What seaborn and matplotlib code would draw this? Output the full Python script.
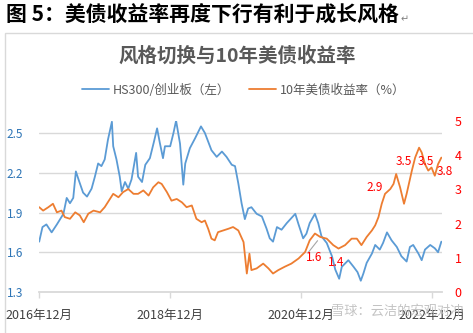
import matplotlib
matplotlib.use("Agg")
import matplotlib.pyplot as plt
import matplotlib.patches as patches
from matplotlib.lines import Line2D
import seaborn as sns
import pandas as pd

# ---------------- data ----------------
t_hs = [2016.92, 2016.97, 2017.03, 2017.11, 2017.19, 2017.29, 2017.34, 2017.39, 2017.44, 2017.48,
        2017.52, 2017.59, 2017.65, 2017.72, 2017.77, 2017.82, 2017.87, 2017.92, 2017.97, 2018.03,
        2018.05, 2018.10, 2018.15, 2018.18, 2018.23, 2018.28, 2018.33, 2018.40, 2018.43, 2018.49,
        2018.54, 2018.61, 2018.67, 2018.72, 2018.76, 2018.81, 2018.84, 2018.92, 2018.97, 2019.01,
        2019.07, 2019.12, 2019.15, 2019.22, 2019.30, 2019.39, 2019.45, 2019.55, 2019.63, 2019.71,
        2019.78, 2019.86, 2019.91, 2019.96, 2020.01, 2020.06, 2020.11, 2020.16, 2020.24, 2020.32,
        2020.39, 2020.44, 2020.49, 2020.55, 2020.62, 2020.70, 2020.83, 2020.88, 2020.95, 2021.00,
        2021.05, 2021.13, 2021.18, 2021.23, 2021.31, 2021.39, 2021.44, 2021.50, 2021.54, 2021.64,
        2021.72, 2021.78, 2021.83, 2021.87, 2021.92, 2022.00, 2022.05, 2022.12, 2022.17, 2022.23,
        2022.30, 2022.38, 2022.45, 2022.53, 2022.58, 2022.63, 2022.71, 2022.76, 2022.81, 2022.89,
        2022.96, 2023.01, 2023.06]
hs_ratio = [1.68, 1.79, 1.81, 1.75, 1.81, 1.89, 2.01, 1.97, 2.01, 2.21,
            2.15, 2.05, 2.02, 2.08, 2.17, 2.27, 2.25, 2.30, 2.45, 2.585,
            2.40, 2.30, 2.17, 2.06, 2.13, 2.08, 2.15, 2.35, 2.17, 2.13,
            2.26, 2.31, 2.43, 2.535, 2.43, 2.31, 2.40, 2.40, 2.50, 2.593,
            2.42, 2.11, 2.27, 2.385, 2.46, 2.55, 2.50, 2.37, 2.32, 2.36,
            2.32, 2.26, 2.25, 2.12, 1.97, 1.85, 1.93, 1.94, 1.89, 1.87,
            1.78, 1.705, 1.68, 1.79, 1.77, 1.82, 1.89, 1.81, 1.705, 1.74,
            1.82, 1.89, 1.82, 1.72, 1.67, 1.57, 1.47, 1.40, 1.49, 1.54,
            1.49, 1.45, 1.385, 1.44, 1.52, 1.59, 1.655, 1.62, 1.67, 1.75,
            1.69, 1.64, 1.57, 1.53, 1.64, 1.655, 1.59, 1.54, 1.62, 1.655,
            1.63, 1.60, 1.68]

t_ust = [2016.92, 2016.98, 2017.06, 2017.13, 2017.19, 2017.26, 2017.31, 2017.39, 2017.47, 2017.54,
         2017.60, 2017.67, 2017.75, 2017.85, 2017.92, 2018.00, 2018.05, 2018.13, 2018.20, 2018.28,
         2018.36, 2018.43, 2018.51, 2018.59, 2018.66, 2018.74, 2018.79, 2018.87, 2018.94, 2019.02,
         2019.10, 2019.17, 2019.25, 2019.32, 2019.40, 2019.45, 2019.50, 2019.55, 2019.60, 2019.65,
         2019.73, 2019.81, 2019.88, 2019.96, 2020.04, 2020.09, 2020.13, 2020.16, 2020.24, 2020.34,
         2020.42, 2020.49, 2020.57, 2020.67, 2020.77, 2020.88, 2020.98, 2021.05, 2021.13, 2021.21,
         2021.31, 2021.41, 2021.49, 2021.59, 2021.69, 2021.77, 2021.84, 2021.92, 2022.00, 2022.05,
         2022.10, 2022.15, 2022.20, 2022.28, 2022.33, 2022.37, 2022.43, 2022.49, 2022.53, 2022.61,
         2022.66, 2022.72, 2022.76, 2022.81, 2022.86, 2022.91, 2022.96, 2023.01, 2023.06]
ust_yield = [2.48, 2.38, 2.48, 2.58, 2.33, 2.38, 2.19, 2.14, 2.33, 2.24,
             2.04, 2.29, 2.38, 2.33, 2.48, 2.72, 2.87, 2.77, 2.92, 3.01,
             2.87, 2.87, 2.97, 2.82, 3.06, 3.21, 3.16, 2.92, 2.67, 2.72,
             2.62, 2.48, 2.53, 2.14, 2.04, 2.09, 1.85, 1.56, 1.51, 1.75,
             1.80, 1.85, 1.90, 1.80, 1.46, 0.54, 1.12, 0.64, 0.69, 0.83,
             0.69, 0.54, 0.64, 0.74, 0.83, 0.98, 1.17, 1.51, 1.71, 1.61,
             1.56, 1.37, 1.27, 1.37, 1.56, 1.56, 1.37, 1.61, 1.80, 1.95,
             2.19, 2.58, 2.87, 3.01, 3.16, 3.45, 3.06, 2.58, 2.87, 3.55,
             3.93, 4.22, 4.08, 3.74, 3.55, 3.64, 3.40, 3.74, 3.93]

label_t = [2021.11, 2021.45, 2022.04, 2022.48, 2022.82, 2023.11]
label_v = [1.01, 0.86, 3.06, 3.83, 3.83, 3.51]
label_txt = ["1.6", "1.4", "2.9", "3.5", "3.5", "3.8"]

x_ticks = [2016.917, 2018.917, 2020.917, 2022.917]
x_ticklabels = ["2016年12月", "2018年12月", "2020年12月", "2022年12月"]
left_ticks = [1.3, 1.6, 1.9, 2.2, 2.5]
right_ticks = [0, 1, 2, 3, 4, 5]

title = "图 5：美债收益率再度下行有利于成长风格"
chart_title = "风格切换与10年美债收益率"
name_hs = "HS300/创业板（左）"
name_ust = "10年美债收益率（%）"
watermark = "雪球：云洁的宏观对冲"

# ---------------- style ----------------
sns.set_theme(style="white")
plt.rcParams["font.family"] = ["Noto Sans CJK SC", "DejaVu Sans"]

BLUE = "#5B9BD5"
ORANGE = "#ED7D31"
GRID = "#D9D9D9"

W, H = 473, 333
fig = plt.figure(figsize=(W / 100, H / 100), dpi=100)
fig.patch.set_facecolor("white")

def fx(px):
    return px / W

def fy(py):
    return 1 - py / H

ax = fig.add_axes([fx(39), fy(292), fx(442) - fx(39), fy(121) - fy(292)])
ax2 = ax.twinx()

df_hs = pd.DataFrame({"t": t_hs, "v": hs_ratio})
df_ust = pd.DataFrame({"t": t_ust, "v": ust_yield})

sns.lineplot(data=df_hs, x="t", y="v", ax=ax, color=BLUE, linewidth=1.3, legend=False)
sns.lineplot(data=df_ust, x="t", y="v", ax=ax2, color=ORANGE, linewidth=1.3, legend=False)
ax2.set_zorder(ax.get_zorder() + 1)
ax2.patch.set_visible(False)

ax.set_xlim(2016.917, 2023.07)
ax.set_ylim(1.3, 1.3 + 171 / 132.5)
ax2.set_ylim(0, 5)

for a in (ax, ax2):
    a.set_xlabel("")
    a.set_ylabel("")
    for s in a.spines.values():
        s.set_visible(False)

ax.spines["bottom"].set_visible(True)
ax.spines["bottom"].set_color(GRID)
ax.spines["bottom"].set_linewidth(1.3)

ax.set_yticks(left_ticks)
ax.set_yticklabels([f"{v:.1f}" for v in left_ticks])
for v in left_ticks[1:]:
    ax.axhline(v, color=GRID, linewidth=1.0, zorder=0)
ax.tick_params(axis="y", length=0, pad=11.5, labelsize=8.5, labelcolor="#2E75B6")

ax2.set_yticks(right_ticks)
ax2.set_yticklabels([str(v) for v in right_ticks])
ax2.tick_params(axis="y", length=0, pad=9, labelsize=9, labelcolor="#FF0000")

ax.set_xticks(x_ticks)
ax.set_xticklabels(x_ticklabels)
ax.tick_params(axis="x", direction="out", length=4, width=1, color=GRID,
               pad=8.5, labelsize=9, labelcolor="#404040", bottom=True)

# data labels
for t, v, s in zip(label_t, label_v, label_txt):
    ax2.text(t, v, s, color="#FF0000", fontsize=8.5, ha="center", va="center", clip_on=False)
ax2.plot([2021.03, 2021.17], [1.16, 1.50], color="#A6A6A6", linewidth=0.8)

# titles
fig.text(fx(6), fy(15), title, fontsize=15, fontweight="bold", color="black",
         ha="left", va="center")
fig.text(fx(401), fy(19), "↵", fontsize=7, color="#808080", ha="left", va="center",
         family=["DejaVu Sans"])
fig.text(fx(237.5), fy(56), chart_title, fontsize=14, fontweight="bold", color="#595959",
         ha="center", va="center")

# border
fig.add_artist(patches.Rectangle((fx(4.5), -0.02), 1.0, fy(33) + 0.02, transform=fig.transFigure,
                                 fill=False, edgecolor=GRID, linewidth=1.0))

# legend
handles = [Line2D([], [], color=BLUE, linewidth=1.3), Line2D([], [], color=ORANGE, linewidth=1.3)]
leg = fig.legend(handles, [name_hs, name_ust], loc="center", bbox_to_anchor=(fx(243.5), fy(90)),
                 ncol=2, frameon=False, fontsize=9, handlelength=2.2, handletextpad=0.3,
                 columnspacing=1.45)
for txt in leg.get_texts():
    txt.set_color("#595959")

# watermark
fig.text(fx(331), fy(311), watermark, fontsize=9.5, color="#BDBDBD", alpha=0.9,
         ha="left", va="center", zorder=10)

fig.savefig("out.png", dpi=100)
